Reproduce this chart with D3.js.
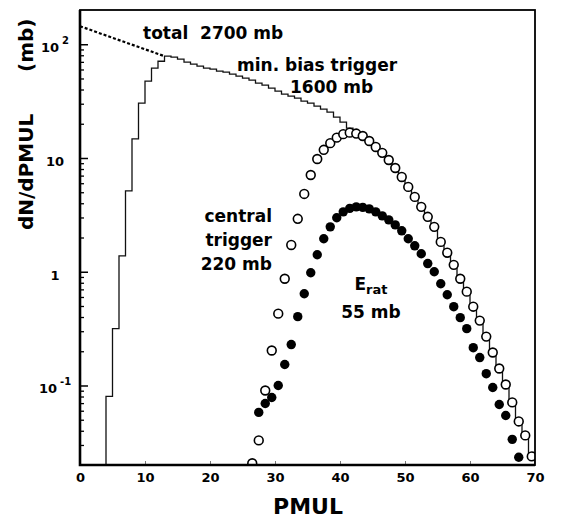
<!DOCTYPE html>
<html>
<head>
<meta charset="utf-8">
<script src="https://cdn.jsdelivr.net/npm/d3@7"></script>
<style>
  body { margin: 0; background: #fff; }
  svg text { font-family: "DejaVu Sans", sans-serif; font-weight: bold; fill: #000; }
</style>
</head>
<body>
<svg id="chart" width="565" height="521"></svg>
<script>
// central trigger (open circles), PMUL bin centres
const centralP = [26.5, 27.5, 28.5, 29.5, 30.5, 31.5, 32.5, 33.5, 34.5, 35.5,
    36.5, 37.5, 38.5, 39.5, 40.5, 41.5, 42.5, 43.5, 44.5, 45.5,
    46.5, 47.5, 48.5, 49.5, 50.5, 51.5, 52.5, 53.5, 54.5, 55.5,
    56.5, 57.5, 58.5, 59.5, 60.5, 61.5, 62.5, 63.5, 64.5, 65.5,
    66.5, 67.5, 68.5, 69.5];
const centralV = [0.0207, 0.0329, 0.0904, 0.203, 0.428, 0.868, 1.72, 2.92, 4.83, 7.09,
    9.80, 11.8, 13.5, 15.1, 16.2, 16.7, 16.4, 15.6, 14.1, 12.5,
    11.1, 9.6, 8.17, 6.81, 5.57, 4.55, 3.72, 3.04, 2.48, 1.83,
    1.47, 1.15, 0.868, 0.668, 0.493, 0.372, 0.269, 0.195, 0.141, 0.102,
    0.0710, 0.0483, 0.0364, 0.0238];

// E_rat trigger (filled circles)
const eratP = [27.5, 28.5, 29.5, 30.5, 31.5, 32.5, 33.5, 34.5, 35.5, 36.5,
    37.5, 38.5, 39.5, 40.5, 41.5, 42.5, 43.5, 44.5, 45.5, 46.5,
    47.5, 48.5, 49.5, 50.5, 51.5, 52.5, 53.5, 54.5, 55.5, 56.5,
    57.5, 58.5, 59.5, 60.5, 61.5, 62.5, 63.5, 64.5, 65.5, 66.5,
    67.5];
const eratV = [0.0580, 0.0695, 0.0785, 0.100, 0.153, 0.229, 0.403, 0.641, 0.980, 1.41,
    1.95, 2.48, 2.98, 3.36, 3.61, 3.72, 3.68, 3.57, 3.36, 3.10,
    2.86, 2.58, 2.29, 1.95, 1.69, 1.44, 1.18, 1.00, 0.785, 0.628,
    0.493, 0.395, 0.316, 0.215, 0.176, 0.127, 0.0960, 0.0681, 0.0545, 0.0336,
    0.0234];

// min. bias histogram, lower bin edges (bin width 1)
const minBiasEdge = [4, 5, 6, 7, 8, 9, 10, 11, 12, 13, 14, 15, 16, 17, 18, 19,
    20, 21, 22, 23, 24, 25, 26, 27, 28, 29, 30, 31, 32, 33, 34, 35, 36, 37, 38, 39,
    40, 41, 42, 43, 44, 45, 46, 47, 48, 49, 50, 51, 52, 53, 54, 55, 56, 57, 58, 59,
    60, 61, 62, 63, 64, 65, 66, 67, 68, 69];
const minBiasV = [0.0801, 0.316, 1.38, 5.13, 14.7, 30.4, 47.4, 61.6, 70.9, 78.5,
    76.9, 73.9, 69.5, 66.8, 64.1, 61.6, 60.4, 58.0, 56.8, 54.6,
    52.4, 50.3, 48.3, 45.5, 43.7, 41.1, 38.7, 36.4, 35.0, 33.6,
    31.6, 30.4, 28.6, 26.9, 25.3, 22.9, 20.7, 18.3,
    16.4, 15.6, 14.1, 12.5, 11.1, 9.6, 8.17, 6.81, 5.57, 4.55,
    3.72, 3.04, 2.48, 1.83, 1.47, 1.15, 0.868, 0.668, 0.493, 0.372,
    0.269, 0.195, 0.141, 0.102, 0.0710, 0.0483, 0.0364, 0.0238];

// total cross section (dashed)
const totalP = [0, 13];
const totalV = [144, 78.5];

const xTicks = [0, 10, 20, 30, 40, 50, 60, 70];
const yMajor = [100, 10, 1, 0.1];
const yBase = ["10", "10", "1", "10"];
const yExp = ["2", "", "", "-1"];

const svg = d3.select("#chart");
const m = { left: 80, right: 535, top: 10, bottom: 465 };

const x = d3.scaleLinear().domain([0, 70]).range([m.left, m.right]);
const y = d3.scaleLog().domain([0.02, 200]).range([m.bottom, m.top]);
const yMin = y.domain()[0];

svg.append("defs").append("clipPath").attr("id", "plot")
    .append("rect")
    .attr("x", m.left).attr("y", m.top)
    .attr("width", m.right - m.left).attr("height", m.bottom - m.top);

const plot = svg.append("g").attr("clip-path", "url(#plot)");

// histogram outline
const histPts = [[minBiasEdge[0], yMin]];
minBiasEdge.forEach((e, i) => {
    histPts.push([e, minBiasV[i]]);
    histPts.push([e + 1, minBiasV[i]]);
});
histPts.push([minBiasEdge[minBiasEdge.length - 1] + 1, yMin]);

const line = d3.line().x(d => x(d[0])).y(d => y(d[1]));

plot.append("path")
    .attr("d", line(histPts))
    .attr("fill", "none")
    .attr("stroke", "#111")
    .attr("stroke-width", 1.3);

plot.append("path")
    .attr("d", line(totalP.map((p, i) => [p, totalV[i]])))
    .attr("fill", "none")
    .attr("stroke", "#000")
    .attr("stroke-width", 2.2)
    .attr("stroke-dasharray", "3,2");

plot.selectAll("circle.central")
    .data(centralP.map((p, i) => [p, centralV[i]]))
    .join("circle")
    .attr("class", "central")
    .attr("cx", d => x(d[0]))
    .attr("cy", d => y(d[1]))
    .attr("r", 4.4)
    .attr("fill", "#fff")
    .attr("stroke", "#000")
    .attr("stroke-width", 1.6);

plot.selectAll("circle.erat")
    .data(eratP.map((p, i) => [p, eratV[i]]))
    .join("circle")
    .attr("class", "erat")
    .attr("cx", d => x(d[0]))
    .attr("cy", d => y(d[1]))
    .attr("r", 4.7)
    .attr("fill", "#000");

// y ticks, inside the frame
const yMinor = [];
[0.01, 0.1, 1, 10, 100].forEach(dec => {
    [2, 3, 4, 5, 6, 7, 8, 9].forEach(k => {
        const v = dec * k;
        if (v > y.domain()[0] && v < y.domain()[1]) yMinor.push(v);
    });
});

svg.append("g")
    .attr("transform", `translate(${m.left},0)`)
    .call(d3.axisRight(y).tickValues(yMajor).tickSize(8).tickFormat(""))
    .call(g => g.select(".domain").remove())
    .selectAll("line").attr("stroke-width", 1.5);

svg.append("g")
    .attr("transform", `translate(${m.left},0)`)
    .call(d3.axisRight(y).tickValues(yMinor).tickSize(4).tickFormat(""))
    .call(g => g.select(".domain").remove())
    .selectAll("line").attr("stroke-width", 1.3);

// y labels
const yLab = svg.append("g");
yMajor.forEach((v, i) => {
    const t = yLab.append("text")
        .attr("x", 55)
        .attr("y", y(v) + 8)
        .attr("text-anchor", "middle")
        .style("font-size", "13px");
    t.append("tspan").text(yBase[i]);
    if (yExp[i]) {
        t.append("tspan")
            .attr("dx", 3)
            .attr("dy", -8)
            .style("font-size", "10px")
            .text(yExp[i]);
    }
});

// x ticks
svg.append("g")
    .attr("transform", `translate(0,${m.bottom})`)
    .call(d3.axisTop(x).tickValues(xTicks.slice(1, -1)).tickSize(4).tickFormat(""))
    .call(g => g.select(".domain").remove())
    .selectAll("line").attr("stroke", "#777");

svg.append("g")
    .attr("transform", `translate(0,${m.bottom})`)
    .call(d3.axisBottom(x).tickValues(xTicks).tickSize(0).tickPadding(8))
    .call(g => g.select(".domain").remove())
    .selectAll("text")
    .style("font-family", "DejaVu Sans")
    .style("font-weight", "bold")
    .style("font-size", "13px")
    .attr("fill", "#000");

// frame: heavier on the bottom and left
svg.append("rect")
    .attr("x", m.left).attr("y", m.top)
    .attr("width", m.right - m.left).attr("height", m.bottom - m.top)
    .attr("fill", "none")
    .attr("stroke", "#000")
    .attr("stroke-width", 1.8);
svg.append("path")
    .attr("d", `M${m.left},${m.top}V${m.bottom}H${m.right}`)
    .attr("fill", "none")
    .attr("stroke", "#000")
    .attr("stroke-width", 2.6);

// axis titles
svg.append("text")
    .attr("x", 308).attr("y", 514)
    .attr("text-anchor", "middle")
    .style("font-size", "22px")
    .text("PMUL");

svg.append("text")
    .attr("transform", "translate(33,230) rotate(-90)")
    .attr("text-anchor", "start")
    .style("font-size", "20px")
    .style("white-space", "pre")
    .text("dN/dPMUL      (mb)");

// annotations
function label(tx, ty, str, anchor) {
    svg.append("text")
        .attr("x", tx).attr("y", ty)
        .attr("text-anchor", anchor || "start")
        .style("font-size", "17px")
        .style("white-space", "pre")
        .text(str);
}
label(143, 39, "total  2700 mb");
label(237, 71, "min. bias trigger");
label(290, 93, "1600 mb");
label(272, 222, "central", "end");
label(272, 246, "trigger", "end");
label(272, 270, "220 mb", "end");

const er = svg.append("text")
    .attr("x", 371).attr("y", 290)
    .attr("text-anchor", "middle")
    .style("font-size", "17px");
er.append("tspan").text("E");
er.append("tspan").attr("dy", 4).style("font-size", "13px").text("rat");
label(371, 318, "55 mb", "middle");
</script>
</body>
</html>
